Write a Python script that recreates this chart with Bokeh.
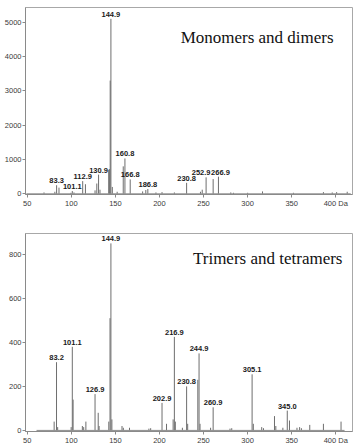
from bokeh.plotting import figure
from bokeh.layouts import column
from bokeh.models import ColumnDataSource, Label, Range1d, FixedTicker
from bokeh.embed import file_html
from bokeh.resources import INLINE

# ---- Monomers and dimers spectrum (m/z, intensity) ----
mono_mz = [69.0, 81.3, 83.3, 86.0, 99.5, 101.1, 103.0, 112.9, 116.0, 126.9,
           128.9, 130.9, 132.5, 142.4, 143.2, 144.1, 144.9, 146.5, 152.0, 158.9,
           160.8, 166.8, 180.9, 184.5, 186.8, 196.0, 202.9, 216.9, 230.8, 246.5,
           248.5, 252.9, 260.9, 266.9, 280.9, 284.0, 300.0, 316.9, 352.0, 386.0,
           396.0, 401.0, 413.0]
mono_int = [40, 60, 250, 180, 30, 80, 40, 370, 280, 100,
            300, 560, 120, 700, 720, 3300, 5100, 200, 60, 800,
            1030, 420, 70, 110, 140, 40, 50, 40, 320, 60,
            120, 480, 430, 500, 40, 30, 30, 70, 30, 50,
            40, 50, 60]
mono_labels = ["83.3", "101.1", "112.9", "130.9", "144.9", "160.8",
               "166.8", "186.8", "230.8", "252.9", "266.9"]

# ---- Trimers and tetramers spectrum (m/z, intensity) ----
tri_mz = [80.5, 83.2, 84.5, 99.8, 101.1, 102.0, 112.5, 114.0, 116.5, 126.9,
          130.5, 131.5, 142.5, 143.9, 144.9, 146.0, 157.5, 159.0, 166.0, 188.0,
          190.0, 202.9, 208.0, 215.5, 216.9, 218.0, 226.0, 230.8, 232.0, 243.5,
          244.9, 246.0, 258.0, 260.9, 280.0, 282.0, 305.1, 306.5, 316.0, 318.0,
          330.5, 332.0, 340.0, 345.0, 347.5, 356.0, 359.0, 361.0, 370.5, 386.0,
          406.0]
tri_int = [40, 310, 15, 15, 380, 140, 20, 15, 40, 165,
           80, 20, 40, 510, 850, 50, 20, 12, 12, 8,
           10, 125, 30, 50, 425, 40, 12, 200, 30, 230,
           350, 30, 12, 105, 8, 10, 255, 30, 15, 10,
           65, 20, 12, 90, 45, 12, 15, 10, 25, 30,
           40]
tri_labels = ["83.2", "101.1", "126.9", "144.9", "202.9", "216.9",
              "230.8", "244.9", "260.9", "305.1", "345.0"]

x_ticks = [50, 100, 150, 200, 250, 300, 350, 400]
mono_yticks = [0, 1000, 2000, 3000, 4000, 5000]
tri_yticks = [0, 200, 400, 600, 800]

TICK_FONT = "Liberation Sans"
PEAK_COLOR = "#6e6e6e"

# horizontal nudges (px) for labels of closely spaced peaks
LABEL_NUDGE = {"252.9": -5, "266.9": 2}


def spectrum(mz, inten, labels, yticks, y_range, title, title_pos, height,
             border_top, border_bottom):
    p = figure(width=356, height=height, output_backend="svg",
               toolbar_location=None, x_range=Range1d(48, 419),
               y_range=Range1d(*y_range),
               min_border_left=25, min_border_right=4,
               min_border_top=border_top, min_border_bottom=border_bottom)
    p.xgrid.visible = False
    p.ygrid.visible = False
    p.outline_line_color = "#a8a8a8"
    p.background_fill_color = "white"
    p.border_fill_color = "white"

    src = ColumnDataSource(dict(x=mz, y0=[0] * len(mz), y1=inten))
    p.segment(x0="x", y0="y0", x1="x", y1="y1", source=src,
              line_color=PEAK_COLOR, line_width=1)
    # baseline of the trace
    p.segment(x0=[min(mz) - 20], y0=[0], x1=[max(mz) + 4], y1=[0],
              line_color="#8a8a8a", line_width=1)

    lookup = {f"{m:.1f}": v for m, v in zip(mz, inten)}
    lab_src = ColumnDataSource(dict(
        x=[float(t) for t in labels],
        y=[lookup[t] for t in labels],
        text=labels,
        dx=[LABEL_NUDGE.get(t, 0) for t in labels],
    ))
    p.text(x="x", y="y", text="text", x_offset="dx", source=lab_src,
           text_align="center", text_baseline="bottom", y_offset=-2,
           text_font_size="7.5px", text_font_style="bold",
           text_color="#1a1a1a", text_font={"value": TICK_FONT})

    p.add_layout(Label(x=title_pos[0], y=title_pos[1], text=title,
                       text_font="Liberation Serif", text_font_size="17px",
                       text_color="#111111", text_baseline="middle"))

    for ax in (p.xaxis[0], p.yaxis[0]):
        ax.axis_line_color = "#8a8a8a"
        ax.major_tick_line_color = "#8a8a8a"
        ax.minor_tick_line_color = "#8a8a8a"
        ax.major_tick_in = 0
        ax.major_tick_out = 3
        ax.minor_tick_in = 0
        ax.minor_tick_out = 0
        ax.major_label_text_font = TICK_FONT
        ax.major_label_text_font_size = "7.5px"
        ax.major_label_text_color = "#3a3a3a"
        ax.major_label_standoff = 1

    p.xaxis.ticker = FixedTicker(ticks=x_ticks)
    p.xaxis.major_label_overrides = {400: "400 Da"}
    p.yaxis.ticker = FixedTicker(ticks=yticks)
    return p


top = spectrum(mono_mz, mono_int, mono_labels, mono_yticks, (-20, 5430),
               "Monomers and dimers", (224, 4570), 210, 7, 13)
bottom = spectrum(tri_mz, tri_int, tri_labels, tri_yticks, (-5, 895),
                  "Trimers and tetramers", (238, 780), 237, 23, 16)

layout = column(top, bottom, spacing=0)
open("out.html", "w").write(file_html(layout, INLINE))
